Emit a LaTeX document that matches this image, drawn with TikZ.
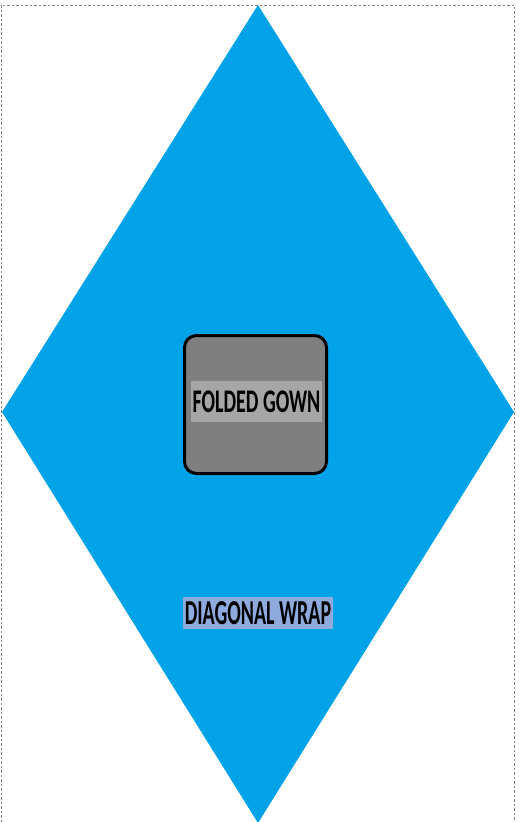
\documentclass[tikz,border=0pt]{standalone}
\usepackage{fontspec}
\setmainfont{Carlito}
\usepackage{graphicx}

\definecolor{wrapblue}{RGB}{0,162,232}
\definecolor{gowngray}{RGB}{127,127,127}
\definecolor{labelgray}{RGB}{166,166,166}
\definecolor{labelblue}{RGB}{143,170,220}

\begin{document}
\begin{tikzpicture}[
        x=1pt, y=-1pt,
        every node/.style={font=\bfseries\fontsize{20}{20}\selectfont, text=black},
        gownbox/.style={draw=black, line width=3pt, fill=gowngray, rounded corners=12pt,
            minimum width=142pt, minimum height=138pt, inner sep=0pt},
        gownlabel/.style={fill=labelgray, minimum width=131pt, minimum height=41pt, inner sep=0pt},
        wraplabel/.style={fill=labelblue, minimum width=150pt, minimum height=32pt, inner sep=0pt}
    ]
        \useasboundingbox (0,0) rectangle (530,822);
        % frame
        \draw[gray, dash pattern=on 2.5pt off 2pt, line width=1pt]
            (1,822) -- (1,5) -- (514,5) -- (514,822);
        % diamond
        \coordinate (top) at (258,5);
        \coordinate (left) at (2,412);
        \coordinate (right) at (514,412);
        \coordinate (bottom) at (258,823);
        \fill[wrapblue] (top) -- (right) -- (bottom) -- (left) -- cycle;
        % folded gown
        \node[gownbox] (gown) at (255.5,404.5) {};
        \node[gownlabel] (gowntext) at (256.5,401.5) {\scalebox{1}[1.65]{FOLDED GOWN}};
        % label
        \node[wraplabel] (wrap) at (258,613) {\raisebox{-2pt}{\scalebox{1}[1.75]{DIAGONAL WRAP}}};
\end{tikzpicture}
\end{document}
